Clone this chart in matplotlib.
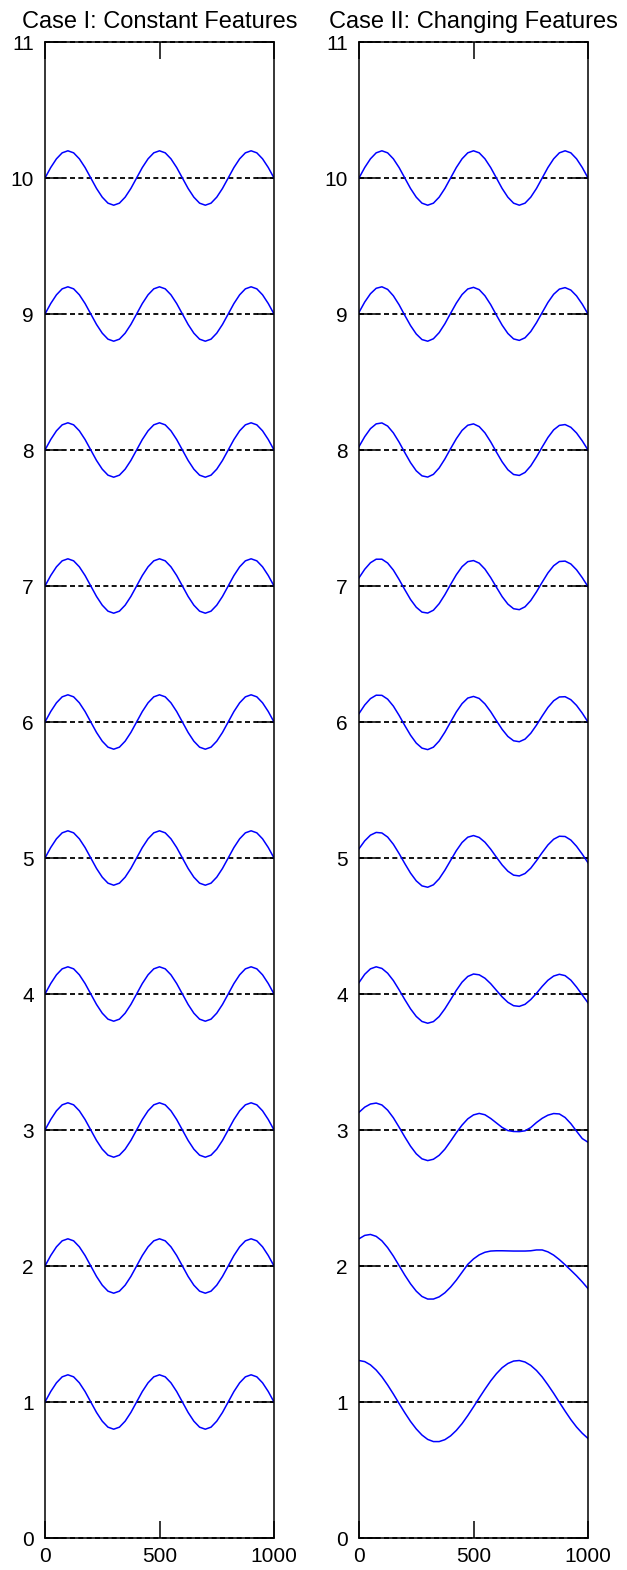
import numpy as np
import matplotlib.pyplot as plt

# samples along the record, every 25 points
x = np.arange(0, 1001, 25)
levels = [1, 2, 3, 4, 5, 6, 7, 8, 9, 10]

# Case I: the same wave sits on every level (deviation from its baseline)
case1_wave = [0, .077, .141, .185, .2, .185, .141, .077, 0, -.077, -.141, -.185, -.2, -.185, -.141, -.077,
              0, .077, .141, .185, .2, .185, .141, .077, 0, -.077, -.141, -.185, -.2, -.185, -.141, -.077,
              0, .077, .141, .185, .2, .185, .141, .077, 0]

# Case II: read level by level, the wave drifts more the lower it sits
case2_L1 = [.305, .297, .273, .235, .185, .125, .059, -.011, -.079, -.143, -.198, -.243, -.275, -.291,
            -.291, -.277, -.249, -.209, -.159, -.100, -.036, .030, .094, .155, .208, .252, .283, .301,
            .305, .294, .269, .232, .184, .126, .064, -.002, -.067, -.129, -.184, -.230, -.268]
case2_L2 = [.200, .225, .232, .218, .185, .135, .073, .003, -.067, -.131, -.185, -.224, -.243,
            -.243, -.227, -.197, -.155, -.104, -.046, .012, .052, .082, .101, .110,
            .112, .112, .111, .110, .110, .110, .112, .118,
            .118, .104, .080, .047, .009, -.031, -.072, -.117, -.166]
case2_L3 = [.130, .168, .191, .198, .184, .146, .090, .021, -.051, -.119, -.175, -.212, -.225,
            -.215, -.186, -.141, -.082, -.020, .036, .082, .111, .122, .112, .085, .052, .019,
            -.004, -.011, -.012, -.006, .018, .055, .086, .109, .121, .118, .092, .047, -.009, -.063, -.090]
case2_L4 = [.084, .145, .185, .200, .188, .153, .099, .031, -.041, -.109, -.165, -.202, -.215,
            -.203, -.166, -.109, -.042, .027, .087, .129, .147, .141, .116, .076, .027, -.021,
            -.061, -.086, -.091, -.076, -.041, .005, .056, .101, .132, .145, .135, .102, .051, -.007, -.065]
case2_L5 = [.068, .126, .168, .188, .184, .154, .101, .033, -.041, -.111, -.168, -.205, -.215,
            -.197, -.153, -.090, -.018, .054, .114, .153, .165, .151, .116, .065, .006, -.051,
            -.097, -.126, -.132, -.114, -.075, -.020, .040, .096, .138, .160, .158, .132, .086, .028, -.035]
case2_L6 = [.062, .125, .172, .197, .196, .168, .117, .049, -.026, -.097, -.155, -.192, -.203,
            -.185, -.140, -.075, .000, .074, .135, .176, .188, .173, .133, .076, .010, -.054,
            -.106, -.138, -.145, -.126, -.083, -.023, .044, .107, .156, .184, .186, .164, .122, .065, 0]
case2_L7 = [.060, .123, .171, .197, .197, .169, .117, .048, -.027, -.099, -.156, -.192, -.199,
            -.178, -.130, -.064, .011, .083, .142, .179, .187, .168, .124, .062, -.009, -.078,
            -.133, -.167, -.174, -.153, -.107, -.043, .028, .096, .149, .180, .183, .162, .119, .061, -.005]
case2_L8 = [.025, .098, .157, .192, .199, .176, .126, .058, -.019, -.093, -.153, -.190, -.199,
            -.179, -.132, -.066, .010, .083, .144, .182, .192, .172, .126, .060, -.015, -.087,
            -.145, -.180, -.187, -.165, -.117, -.051, .022, .092, .148, .181, .187, .167, .125, .067, 0]
case2_L9 = [.012, .088, .149, .189, .200, .181, .134, .068, -.010, -.085, -.147, -.188, -.200,
            -.182, -.137, -.072, .005, .080, .143, .184, .196, .179, .134, .069, -.008, -.082,
            -.143, -.183, -.194, -.175, -.129, -.064, .011, .085, .145, .183, .194, .176, .133, .072, 0]
case2_L10 = [0, .077, .141, .185, .2, .185, .141, .077, 0, -.077, -.141, -.185, -.2, -.185, -.141, -.077,
             0, .077, .141, .185, .2, .185, .141, .077, 0, -.077, -.141, -.185, -.2, -.185, -.141, -.077,
             0, .077, .141, .185, .2, .185, .141, .077, 0]

case1_waves = [case1_wave] * len(levels)
case2_waves = [case2_L1, case2_L2, case2_L3, case2_L4, case2_L5,
               case2_L6, case2_L7, case2_L8, case2_L9, case2_L10]

baselines = list(range(0, 12))
y_ticks = list(range(0, 12))
x_ticks = [0, 500, 1000]
titles = ['Case I: Constant Features', 'Case II: Changing Features']

plt.rcParams['font.family'] = ['Liberation Sans', 'DejaVu Sans']
plt.rcParams['lines.scale_dashes'] = False

W, H = 627, 1570
fig = plt.figure(figsize=(W / 100, H / 100), dpi=100)
ax1 = fig.add_axes([45 / W, 32 / H, 229 / W, 1496 / H])
ax2 = fig.add_axes([359 / W, 32 / H, 229 / W, 1496 / H])

for ax, waves, title in zip([ax1, ax2], [case1_waves, case2_waves], titles):
    for lev in baselines:
        ax.axhline(lev, color='black', lw=1.3, ls=(0, (3.6, 2.4)), clip_on=False, zorder=1)
    for lev, w in zip(levels, waves):
        ax.plot(x, lev + np.array(w), color='blue', lw=1.1, zorder=2)

    ax.set_xlim(0, 1000)
    ax.set_ylim(0, 11)
    ax.set_xticks(x_ticks)
    ax.set_yticks(y_ticks)
    ax.tick_params(direction='in', length=12, width=1.1, top=True, right=True,
                   labelsize=15, colors='black')
    ax.tick_params(axis='y', pad=8)
    ax.tick_params(axis='x', pad=6.5)
    for s in ax.spines.values():
        s.set_linewidth(1.1)
    ax.set_title(title, fontsize=17, pad=10)

fig.savefig('out.png', dpi=100, facecolor='white')
